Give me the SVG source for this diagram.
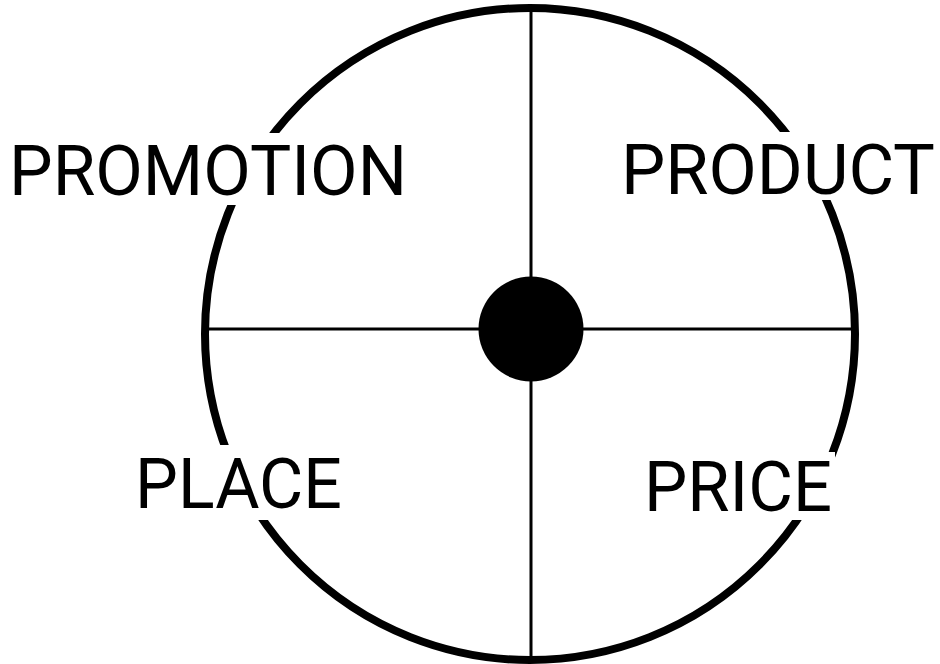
<svg xmlns="http://www.w3.org/2000/svg" width="940" height="664" viewBox="0 0 940 664">
<style>
.lbl{font-family:Roboto,"Liberation Sans",sans-serif;font-size:70px;font-weight:400;fill:#000}
.bg{fill:#fff}
.ln{stroke:#000;stroke-width:3;fill:none}
</style>
<rect width="940" height="664" fill="#fff"/>
<g id="ring">
<ellipse cx="530" cy="334" rx="325" ry="326" fill="none" stroke="#000" stroke-width="8"/>
</g>
<g id="connectors">
<line class="ln" x1="531" y1="10" x2="531" y2="660"/>
<line class="ln" x1="204" y1="329" x2="855" y2="329"/>
</g>
<g id="promotion">
<rect class="bg" x="8" y="133" width="400" height="72"/>
<text class="lbl" x="9" y="195" textLength="398" lengthAdjust="spacingAndGlyphs">PROMOTION</text>
</g>
<g id="product">
<rect class="bg" x="620" y="132" width="318" height="68"/>
<text class="lbl" x="621" y="194" textLength="314" lengthAdjust="spacingAndGlyphs">PRODUCT</text>
</g>
<g id="place">
<rect class="bg" x="134" y="445" width="210" height="75"/>
<text class="lbl" x="135" y="508" textLength="207" lengthAdjust="spacingAndGlyphs">PLACE</text>
</g>
<g id="price">
<rect class="bg" x="643" y="452" width="192" height="68"/>
<text class="lbl" x="644" y="511" textLength="188" lengthAdjust="spacingAndGlyphs">PRICE</text>
</g>
<g id="center">
<circle cx="531" cy="329" r="52.5" fill="#000"/>
</g>
</svg>
